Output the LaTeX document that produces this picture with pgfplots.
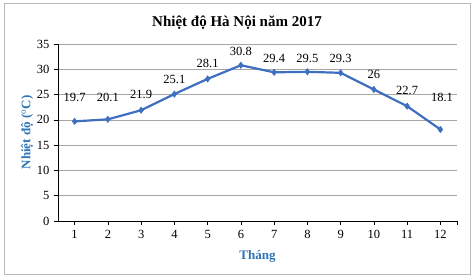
\documentclass[border=0pt]{standalone}
\usepackage{fontspec}
\setmainfont{Liberation Serif}
\usepackage{pgfplots}
\pgfplotsset{compat=1.18}
\definecolor{lineblue}{HTML}{3F6FBF}
\definecolor{labblue}{HTML}{2E75B6}
\definecolor{gridgray}{HTML}{A6A6A6}
\begin{document}
\begin{tikzpicture}
\useasboundingbox (0,0) rectangle (474pt,280pt);
\draw[gray!55, line width=1pt] (4pt,5pt) rectangle (470pt,276pt);
\node[font=\fontsize{15}{17}\selectfont\bfseries] at (237pt,257pt) {Nhiệt độ Hà Nội năm 2017};
\begin{axis}[
  at={(58pt,59pt)},
  scale only axis, width=399pt, height=177pt,
  anchor=south west,
  xmin=0.5, xmax=12.5, ymin=0, ymax=35,
  xtick={1,...,12}, ytick={0,5,...,35},
  extra x ticks={12.5}, extra x tick labels={},
  extra x tick style={grid=none},
  axis lines*=left,
  axis line style={black, line width=0.8pt},
  tick align=outside, major tick length=4pt,
  tick style={black, line width=0.6pt},
  ymajorgrids, grid style={gridgray, line width=0.7pt},
  /pgf/number format/assume math mode=true,
  tick label style={font=\fontsize{12.5}{14}\selectfont},
  yticklabel style={xshift=-1pt},
  xticklabel style={yshift=-2pt},
  xlabel={Tháng}, ylabel={Nhiệt độ ($^{\mathrm{o}}$C)},
  label style={font=\fontsize{13}{15}\selectfont\bfseries, text=labblue},
  xlabel style={yshift=3pt},
  ylabel style={yshift=-3pt},
  clip=false,
]
\addplot[lineblue, line width=2.2pt, mark=diamond*, mark size=3.2pt,
  mark options={fill=lineblue, draw=lineblue, line width=0.5pt}]
  coordinates {(1,19.7)(2,20.1)(3,21.9)(4,25.1)(5,28.1)(6,30.8)(7,29.4)(8,29.5)(9,29.3)(10,26)(11,22.7)(12,18.1)};
\addplot[draw=none, mark=none, nodes near coords, point meta=explicit symbolic,
  every node near coord/.style={anchor=center, font=\fontsize{12.5}{14}\selectfont}]
  table[meta=lab] {
x y lab
1 24.45 19.7
2 24.45 20.1
3 25.05 21.9
4 28.0 25.1
5 31.2 28.1
6 33.6 30.8
7 32.2 29.4
8 32.2 29.5
9 32.2 29.3
10 29.0 26
11 25.85 22.7
12.05 24.45 18.1
};
\end{axis}
\end{tikzpicture}
\end{document}
